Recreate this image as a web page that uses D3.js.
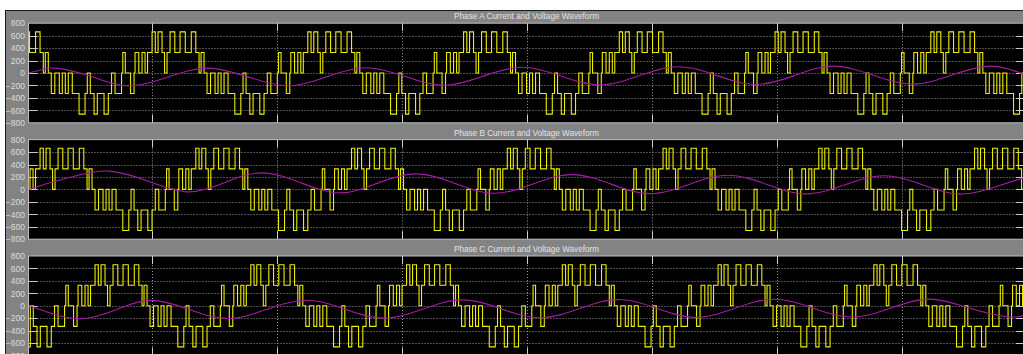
<!DOCTYPE html>
<html><head><meta charset="utf-8">
<script src="https://cdn.jsdelivr.net/npm/d3@7"></script>
<style>
html,body{margin:0;padding:0;background:#fff;overflow:hidden;}
svg{display:block;font-family:"Liberation Sans",Arial,sans-serif;}
</style></head><body>
<svg id="chart" width="1023" height="354"></svg>
<script>
// ---------------- data ----------------
const panelTitles = ["Phase A Current and Voltage Waveform",
                     "Phase B Current and Voltage Waveform",
                     "Phase C Current and Voltage Waveform"];
const yTicks = [800, 600, 400, 200, 0, -200, -400, -600, -800];
const timeTicks = [0, 10, 20, 30, 40, 50, 60, 70, 80];   // ms
const timeDomain = [0, 80];

// fundamental period (ms) and time of the first positive voltage peak of each phase
const period = 12.46;
const voltagePeaks = [11.74, 2.78, 7.18];

// one cycle of the 5-level PWM phase voltage: [offset from positive peak (ms), level (V)]
const cycleOffsets = [-3.12,-2.82,-2.56,-2.32,-2.12,-1.76,-1.50,-1.28,-0.96,-0.76,-0.56,-0.32,0.06,0.48,0.90,1.38,1.74,2.00,2.16,2.40,2.64,2.92,
                      3.28,3.52,3.76,4.00,4.32,4.86,5.34,5.52,5.76,6.06,6.32,6.86,7.20,7.46,7.74,8.26,8.36,8.56,8.98,9.26];
const cycleLevels  = [330,0,330,0,330,660,330,660,330,0,330,660,330,660,330,660,330,0,330,0,-330,0,
                      -330,0,-330,0,-330,-660,-330,0,-330,-660,-330,-660,-330,0,-330,0,330,0,-330,0];

// phase currents: time (ms) and value (A)
const currentATime = [0.14,1.18,2.46,5.26,8.06,11.26,14.38,17.66,20.86,23.98,27.10,30.22,33.34,36.46,39.58,42.70,45.82,48.94,52.06,55.18,58.30,61.42,64.46,67.66,70.86,73.98,77.10,79.82];
const currentA     = [0,55,75,-65,-208,-65,78,-62,-205,-58,85,-55,-196,-50,92,-48,-190,-45,100,-42,-184,-38,110,-35,-178,-33,110,-32];
const currentBTime = [0.14,1.82,4.22,6.62,9.74,12.86,15.82,18.78,21.90,25.02,27.98,31.10,34.22,37.34,40.46,43.58,46.70,49.82,52.94,56.06,59.18,62.30,65.42,68.54,71.66,74.78,77.90,79.82];
const currentB     = [0,107,235,293,127,-40,112,265,105,-55,97,250,94,-62,88,238,85,-68,80,228,78,-72,74,220,72,-75,70,190];
const currentCTime = [0.14,1.82,4.22,7.02,9.82,12.94,16.06,19.18,22.30,25.42,28.54,31.66,34.78,37.90,41.02,44.14,47.26,50.38,53.50,56.62,59.74,62.86,65.98,69.10,72.22,75.34,78.46,79.82];
const currentC     = [0,-117,-208,-70,87,-58,-205,-55,90,-54,-198,-52,95,-49,-192,-46,100,-43,-186,-40,105,-38,-180,-36,108,-34,-176,-145];

const currents = [[currentATime, currentA], [currentBTime, currentB], [currentCTime, currentC]];

// ---------------- layout ----------------
const W = 1023, H = 354;
const plotLeft = 28.5, plotRight = 1024;
const panelTop0 = 23.2, panelStep = 116.4, panelH = 99.6;
const svg = d3.select("#chart");

// frame
svg.append("rect").attr("x",0).attr("y",0).attr("width",W).attr("height",H).attr("fill","#fff");
svg.append("rect").attr("x",5).attr("y",10).attr("width",W).attr("height",H).attr("fill","#1a1a1a");
svg.append("rect").attr("x",6).attr("y",11).attr("width",W).attr("height",H).attr("fill","#838383");

const x = d3.scaleLinear().domain(timeDomain).range([27.3, 1027.3]);

function voltageSeries(peak) {
  const ev = [];
  for (let k = -2; k <= 9; k++) {
    cycleOffsets.forEach((o, i) => ev.push([peak + k * period + o, cycleLevels[i]]));
  }
  ev.sort((a, b) => a[0] - b[0]);
  let start = 0;
  ev.forEach(e => { if (e[0] <= timeDomain[0]) start = e[1]; });
  const pts = [[timeDomain[0] + 0.1, start]];
  ev.forEach(e => { if (e[0] > timeDomain[0] + 0.1 && e[0] < timeDomain[1]) pts.push(e); });
  pts.push([timeDomain[1], pts[pts.length - 1][1]]);
  return pts;
}

panelTitles.forEach((title, p) => {
  const top = panelTop0 + p * panelStep;
  const y = d3.scaleLinear().domain([-800, 800]).range([top + panelH, top]);
  const g = svg.append("g");

  // title
  g.append("text").attr("x", 526.5).attr("y", top - 6.5)
    .attr("text-anchor", "middle").attr("dominant-baseline", "middle")
    .attr("font-size", 9.5).attr("fill", "#e4e4e4")
    .attr("textLength", 145).attr("lengthAdjust", "spacingAndGlyphs").text(title);

  // plot background
  const clipId = "clip" + p;
  svg.append("clipPath").attr("id", clipId).append("rect")
    .attr("x", plotLeft).attr("y", top).attr("width", plotRight - plotLeft).attr("height", panelH);
  g.append("rect").attr("x", plotLeft).attr("y", top).attr("width", plotRight - plotLeft).attr("height", panelH)
    .attr("fill", "#000");

  // y labels via axis
  const ax = g.append("g").attr("transform", `translate(${plotLeft},0)`)
    .call(d3.axisLeft(y).tickValues(yTicks).tickSize(0).tickPadding(3.5));
  ax.select(".domain").remove();
  ax.selectAll("text").attr("fill", "#dedede").attr("font-size", 8.5)
    .attr("font-family", '"Liberation Sans",Arial,sans-serif');

  // grid
  const grid = g.append("g").attr("clip-path", `url(#${clipId})`);
  yTicks.filter(v => v !== 800 && v !== -800).forEach(v => {
    const yy = Math.round(y(v)) + 0.5;
    grid.append("line").attr("x1", plotLeft).attr("x2", plotRight).attr("y1", yy).attr("y2", yy)
      .attr("stroke", "#9a9a9a").attr("stroke-dasharray", "1,2");
    grid.append("line").attr("x1", plotLeft).attr("x2", plotLeft + 9).attr("y1", yy).attr("y2", yy).attr("stroke", "#c8c8c8");
    grid.append("line").attr("x1", plotRight - 8).attr("x2", plotRight).attr("y1", yy).attr("y2", yy).attr("stroke", "#c8c8c8");
  });
  timeTicks.slice(1).forEach(t => {
    const xx = Math.round(x(t)) + 0.5;
    grid.append("line").attr("x1", xx).attr("x2", xx).attr("y1", top).attr("y2", top + panelH)
      .attr("stroke", "#9a9a9a").attr("stroke-dasharray", "1,2");
    grid.append("line").attr("x1", xx).attr("x2", xx).attr("y1", top).attr("y2", top + 8).attr("stroke", "#d0d0d0");
    grid.append("line").attr("x1", xx).attr("x2", xx).attr("y1", top + panelH - 8).attr("y2", top + panelH).attr("stroke", "#d0d0d0");
  });

  // data
  const data = g.append("g").attr("clip-path", `url(#${clipId})`);
  const vLine = d3.line().x(d => x(d[0])).y(d => y(d[1])).curve(d3.curveStepAfter);
  data.append("path").attr("d", vLine(voltageSeries(voltagePeaks[p])))
    .attr("fill", "none").attr("stroke", "#eeee00").attr("stroke-width", 1.1);

  const [ct, cv] = currents[p];
  const iLine = d3.line().x((d, i) => x(ct[i])).y(d => y(d)).curve(d3.curveNatural);
  data.append("path").attr("d", iLine(cv))
    .attr("fill", "none").attr("stroke", "#a41ca4").attr("stroke-width", 1.1);

  // axes box
  g.append("rect").attr("x", plotLeft).attr("y", top).attr("width", plotRight - plotLeft).attr("height", panelH)
    .attr("fill", "none").attr("stroke", "#bdbdbd").attr("stroke-width", 1);
});
</script>
</body></html>
